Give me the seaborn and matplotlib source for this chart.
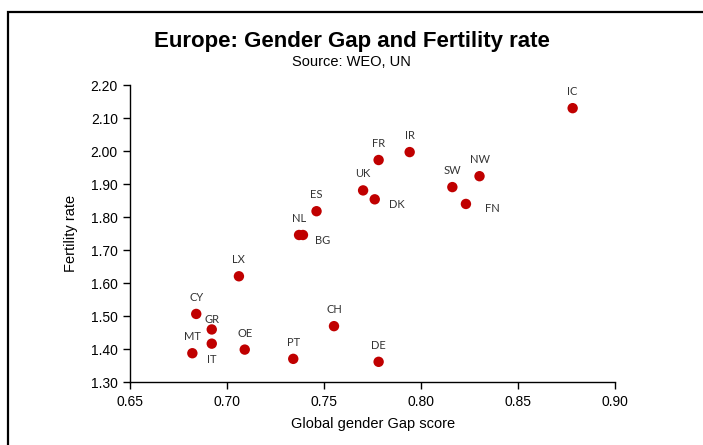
import matplotlib
matplotlib.use("Agg")
import matplotlib.pyplot as plt
import seaborn as sns
import pandas as pd
from matplotlib.patches import Rectangle

# Country codes, gender gap score and fertility rate
countries = ["IC", "FR", "IR", "UK", "DK", "SW", "NW", "FN", "ES", "NL", "BG",
             "LX", "CY", "GR", "IT", "MT", "OE", "PT", "CH", "DE"]
gap_score = [0.878, 0.778, 0.794, 0.770, 0.776, 0.816, 0.830, 0.823, 0.746, 0.737, 0.739,
             0.706, 0.684, 0.692, 0.692, 0.682, 0.709, 0.734, 0.755, 0.778]
fertility = [2.13, 1.973, 1.997, 1.881, 1.854, 1.891, 1.924, 1.840, 1.818, 1.746, 1.746,
             1.621, 1.507, 1.460, 1.417, 1.388, 1.399, 1.371, 1.470, 1.362]

x_ticks = [0.65, 0.70, 0.75, 0.80, 0.85, 0.90]
y_ticks = [1.30, 1.40, 1.50, 1.60, 1.70, 1.80, 1.90, 2.00, 2.10, 2.20]

# label placement: offset in points and horizontal alignment
label_pos = {
    "DK": ((10, -3.6), "left"),
    "FN": ((13.5, -3.6), "left"),
    "BG": ((9, -3.8), "left"),
    "GR": ((0, 7.5), "center"),
    "IT": ((0, -11.5), "center"),
}

df = pd.DataFrame({"country": countries, "gap": gap_score, "fert": fertility})

sns.set_style("ticks")
plt.rcParams["font.family"] = ["Liberation Sans", "DejaVu Sans"]
plt.rcParams["text.color"] = "black"
plt.rcParams["axes.labelcolor"] = "black"

fig = plt.figure(figsize=(7.03, 4.45), dpi=100)
ax = fig.add_axes([0.1853, 0.1409, 0.69, 0.668])

sns.scatterplot(data=df, x="gap", y="fert", ax=ax, color="#C00000",
                s=56, edgecolor="none", linewidth=0, zorder=3)

for c, xv, yv in zip(countries, gap_score, fertility):
    off, ha = label_pos.get(c, ((0, 11.9), "center"))
    ax.annotate(c, (xv, yv), xytext=off, textcoords="offset points",
                ha=ha, va="center", fontsize=8, color="#333333",
                family=["Lato", "DejaVu Sans"])

ax.set_xlim(0.65, 0.90)
ax.set_ylim(1.30, 2.20)
ax.set_xticks(x_ticks)
ax.set_yticks(y_ticks)
ax.set_xticklabels([f"{v:.2f}" for v in x_ticks])
ax.set_yticklabels([f"{v:.2f}" for v in y_ticks])
ax.tick_params(axis="both", labelsize=10, length=5, width=1, color="black",
               labelcolor="black", direction="out", pad=4)
for side in ("top", "right"):
    ax.spines[side].set_visible(False)
for side in ("left", "bottom"):
    ax.spines[side].set_color("black")
    ax.spines[side].set_linewidth(1)

ax.set_xlabel("Global gender Gap score", fontsize=10.5, labelpad=6, color="black")
ax.set_ylabel("Fertility rate", fontsize=10.5, labelpad=9, color="black")

fig.text(0.5, 1 - 47 / 445, "Europe: Gender Gap and Fertility rate",
         ha="center", va="baseline", fontsize=16, fontweight="bold", color="black")
fig.text(0.5, 1 - 66 / 445, "Source: WEO, UN",
         ha="center", va="baseline", fontsize=10.5, color="black")

# chart frame running off the right and bottom edges
frame = Rectangle((8 / 703, -0.1), 1.2, 1 - 12 / 445 + 0.1,
                  transform=fig.transFigure, fill=False,
                  edgecolor="black", linewidth=1.6, clip_on=False)
fig.patches.append(frame)

fig.savefig("out.png", dpi=100)
